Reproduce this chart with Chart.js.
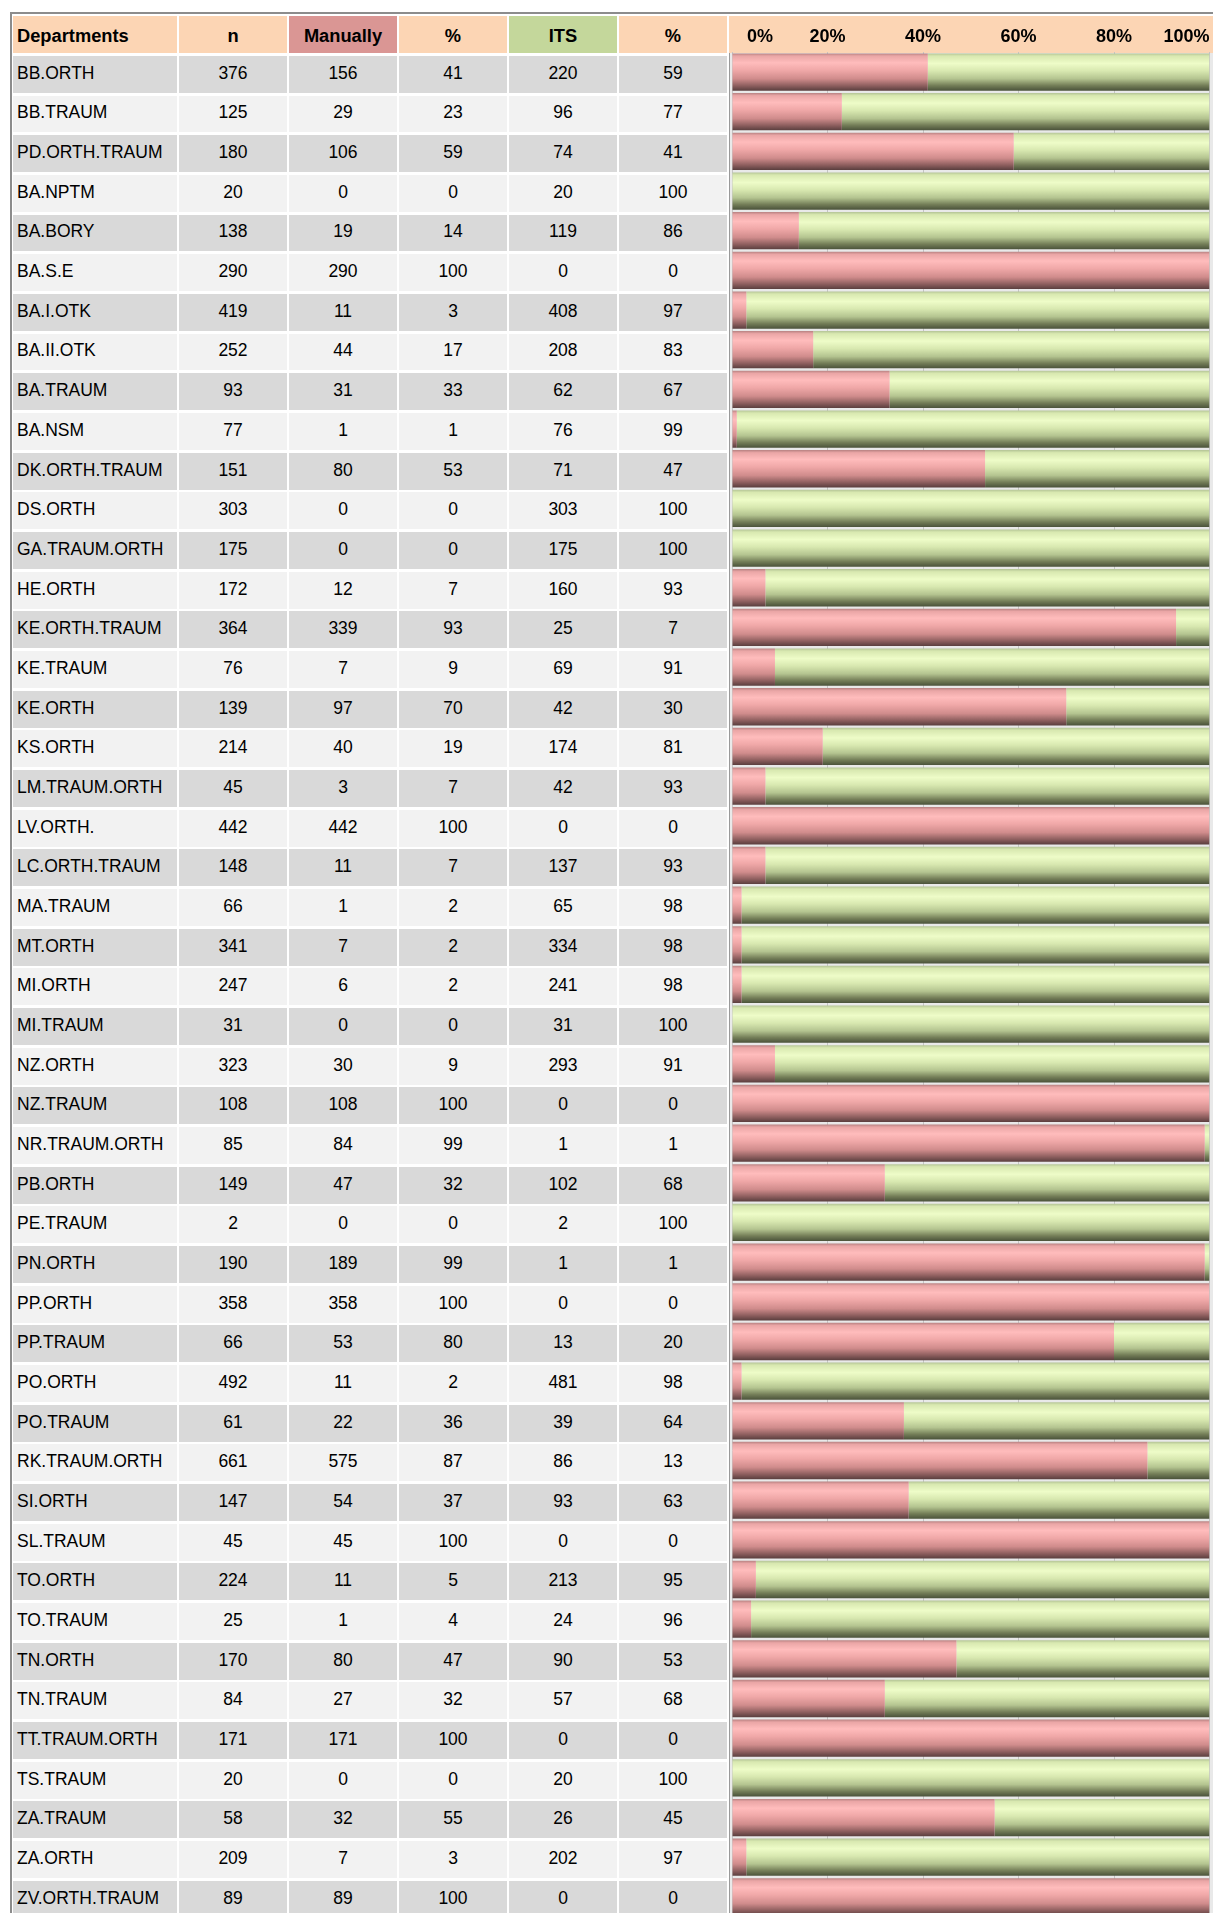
<!DOCTYPE html>
<html><head><meta charset="utf-8">
<script src="https://cdn.jsdelivr.net/npm/chart.js@4.4.1/dist/chart.umd.min.js"></script>
<style>
html,body{margin:0;padding:0;background:#fff;overflow:hidden;width:1213px;height:1913px;}
body{position:relative;font-family:"Liberation Sans",Arial,sans-serif;color:#000;}
.cell{position:absolute;display:flex;align-items:center;justify-content:center;font-size:17.5px;box-sizing:border-box;white-space:nowrap;padding-bottom:2.5px;}
.left{justify-content:flex-start;padding-left:4px;}
.hd{font-weight:bold;font-size:18.3px;padding-bottom:0;padding-top:2.5px;}
</style></head><body>
<div style="position:absolute;left:10px;top:12px;right:-5px;bottom:-5px;border-top:2px solid #8c8c8c;border-left:2px solid #8c8c8c;"></div>
<div id="table"></div>
<div style="position:absolute;left:729px;top:53px;width:484px;height:1870px;background:#e9e9e9;border-left:1px solid #9a9a9a;box-sizing:border-box;"></div>
<div style="position:absolute;left:729px;top:16px;width:484px;height:37px;background:#fcd5b4;"></div>
<div style="position:absolute;left:729px;top:16px;width:484px;height:1905px;"><canvas id="c" width="484" height="1905"></canvas></div>
<script>
const departments = ["BB.ORTH","BB.TRAUM","PD.ORTH.TRAUM","BA.NPTM","BA.BORY","BA.S.E","BA.I.OTK","BA.II.OTK","BA.TRAUM","BA.NSM","DK.ORTH.TRAUM","DS.ORTH","GA.TRAUM.ORTH","HE.ORTH","KE.ORTH.TRAUM","KE.TRAUM","KE.ORTH","KS.ORTH","LM.TRAUM.ORTH","LV.ORTH.","LC.ORTH.TRAUM","MA.TRAUM","MT.ORTH","MI.ORTH","MI.TRAUM","NZ.ORTH","NZ.TRAUM","NR.TRAUM.ORTH","PB.ORTH","PE.TRAUM","PN.ORTH","PP.ORTH","PP.TRAUM","PO.ORTH","PO.TRAUM","RK.TRAUM.ORTH","SI.ORTH","SL.TRAUM","TO.ORTH","TO.TRAUM","TN.ORTH","TN.TRAUM","TT.TRAUM.ORTH","TS.TRAUM","ZA.TRAUM","ZA.ORTH","ZV.ORTH.TRAUM"];
const totalN = [376,125,180,20,138,290,419,252,93,77,151,303,175,172,364,76,139,214,45,442,148,66,341,247,31,323,108,85,149,2,190,358,66,492,61,661,147,45,224,25,170,84,171,20,58,209,89];
const manual = [156,29,106,0,19,290,11,44,31,1,80,0,0,12,339,7,97,40,3,442,11,1,7,6,0,30,108,84,47,0,189,358,53,11,22,575,54,45,11,1,80,27,171,0,32,7,89];
const manualPct = [41,23,59,0,14,100,3,17,33,1,53,0,0,7,93,9,70,19,7,100,7,2,2,2,0,9,100,99,32,0,99,100,80,2,36,87,37,100,5,4,47,32,100,0,55,3,100];
const its = [220,96,74,20,119,0,408,208,62,76,71,303,175,160,25,69,42,174,42,0,137,65,334,241,31,293,0,1,102,2,1,0,13,481,39,86,93,0,213,24,90,57,0,20,26,202,0];
const itsPct = [59,77,41,100,86,0,97,83,67,99,47,100,100,93,7,91,30,81,93,0,93,98,98,98,100,91,0,1,68,100,1,0,20,98,64,13,63,0,95,96,53,68,0,100,45,97,0];
const headers = ["Departments","n","Manually","%","ITS","%"];
const tickLabels = ["0%","20%","40%","60%","80%","100%"];

// table layout
const colX = [13,179,289,399,509,619];
const colW = [164,108,108,108,108,108];
const hdrBg = ['#fcd5b4','#fcd5b4','#da9694','#fcd5b4','#c4d79b','#fcd5b4'];
const tbl = document.getElementById('table');
function addCell(x,y,w,h,bg,text,cls){
  const d=document.createElement('div');
  d.className='cell '+cls;
  d.style.left=x+'px';d.style.top=y+'px';d.style.width=w+'px';d.style.height=h+'px';d.style.background=bg;
  d.textContent=text;tbl.appendChild(d);
}
headers.forEach((h,j)=>addCell(colX[j],16,colW[j],37,hdrBg[j],h,'hd'+(j===0?' left':'')));
const pitch=39.67;
departments.forEach((dep,i)=>{
  const t=Math.round(56+i*pitch), b=Math.round(56+i*pitch+36.8);
  const bg = i%2===0 ? '#d9d9d9' : '#f2f2f2';
  const vals=[dep,totalN[i],manual[i],manualPct[i],its[i],itsPct[i]];
  vals.forEach((v,j)=>addCell(colX[j],t,colW[j],b-t,bg,String(v),j===0?'left':''));
});

function makeGrad(ctx, stops, fallback){
  const chart=ctx.chart;
  if(!chart.chartArea || ctx.type!=='data') return fallback;
  const ys=chart.scales.y;
  const y=ys.getPixelForValue(ctx.dataIndex);
  const h=(chart.chartArea.height/departments.length)*0.94;
  const g=chart.ctx.createLinearGradient(0,y-h/2,0,y+h/2);
  stops.forEach(s=>g.addColorStop(s[0],s[1]));
  return g;
}
const redStops=[[0,'#b88282'],[0.07,'#eaa6a6'],[0.25,'#ffbcbc'],[0.45,'#f0a8a8'],[0.68,'#d08c8c'],[0.86,'#906060'],[1,'#5a3e3e']];
const greenStops=[[0,'#b4c496'],[0.07,'#d8e8b0'],[0.27,'#eefcc8'],[0.47,'#d8e8b0'],[0.68,'#b4c490'],[0.86,'#747e58'],[1,'#4a523a']];

new Chart(document.getElementById('c'),{
  type:'bar',
  data:{labels:departments,datasets:[
    {label:'Manually',data:manualPct,backgroundColor:c=>makeGrad(c,redStops,'#e8a0a0'),borderWidth:0,categoryPercentage:1,barPercentage:0.94},
    {label:'ITS',data:itsPct,backgroundColor:c=>makeGrad(c,greenStops,'#d8e8b0'),borderWidth:0,categoryPercentage:1,barPercentage:0.94}
  ]},
  options:{
    indexAxis:'y',responsive:false,animation:false,devicePixelRatio:1,
    layout:{padding:{left:3,right:3.5,top:0,bottom:4.3}},
    plugins:{legend:{display:false},tooltip:{enabled:false}},
    scales:{
      x:{type:'linear',position:'top',stacked:true,min:0,max:100,
        afterFit:(s)=>{s.height=36.2;},
        border:{display:false},
        grid:{color:'#c4c4c4',lineWidth:1,drawTicks:false},
        ticks:{stepSize:20,padding:0,align:'inner',color:'#000',
          font:{family:'"Liberation Sans", Arial, sans-serif',size:18,weight:'bold',lineHeight:1.7},
          callback:(v,i)=>{const k=v/20; const l=tickLabels[k]; return k===0 ? '   '+l : l;}}
      },
      y:{type:'category',stacked:true,display:false}
    }
  }
});
</script>
</body></html>
